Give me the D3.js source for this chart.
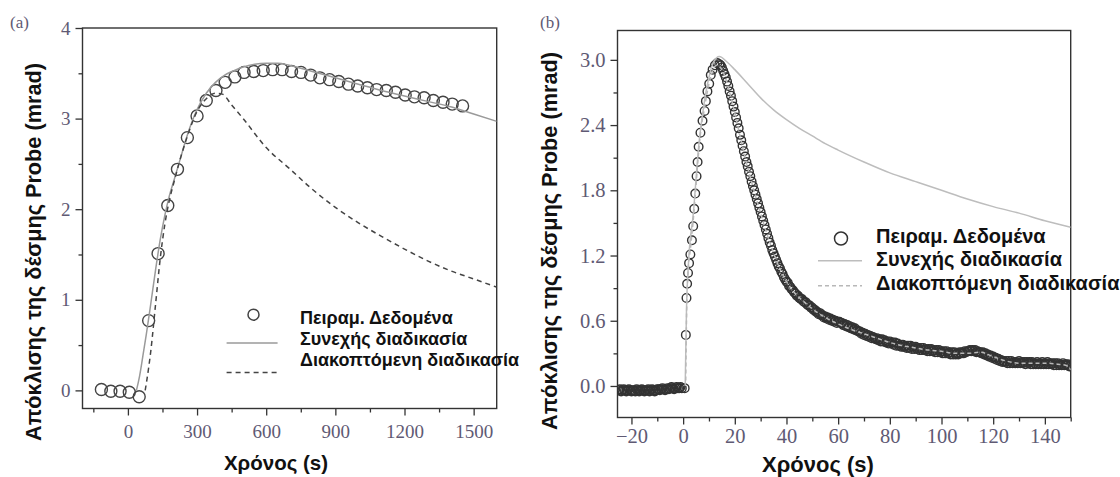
<!DOCTYPE html>
<html>
<head>
<meta charset="utf-8">
<script src="https://cdn.jsdelivr.net/npm/d3@7"></script>
<style>
  body { margin: 0; background: #fff; }
  svg { display: block; }
</style>
</head>
<body>
<svg width="1120" height="477"></svg>
<script>
// ---- panel (a) : slow heating, time in s ----
const aDataT = [-115, -74, -34, 6, 49, 90, 131, 173, 215, 258, 300, 340, 382, 422, 464, 504, 546, 587, 628, 669,
  710, 751, 793, 833, 875, 915, 957, 997, 1039, 1079, 1121, 1161, 1203, 1243, 1285, 1325, 1367, 1407, 1452];
const aDataV = [0.01, -0.01, -0.01, -0.02, -0.07, 0.77, 1.51, 2.04, 2.44, 2.79, 3.03, 3.20, 3.31, 3.40, 3.46, 3.51, 3.52, 3.53, 3.54, 3.54,
  3.52, 3.51, 3.48, 3.45, 3.43, 3.41, 3.38, 3.36, 3.34, 3.32, 3.31, 3.29, 3.26, 3.24, 3.23, 3.20, 3.18, 3.16, 3.14];

const aContT = [37, 50, 65, 80, 100, 120, 140, 160, 180, 200, 230, 258, 280, 300, 340, 380, 420, 460, 500, 550, 600, 650, 700, 800, 900, 1000, 1100, 1200, 1300, 1400, 1500, 1600];
const aContV = [0, 0.15, 0.38, 0.62, 0.97, 1.33, 1.66, 1.93, 2.15, 2.32, 2.58, 2.82, 2.98, 3.10, 3.28, 3.40, 3.48, 3.53, 3.57, 3.60, 3.61, 3.61, 3.59, 3.52, 3.45, 3.38, 3.31, 3.25, 3.19, 3.13, 3.05, 2.97];

const aPulsT = [75, 90, 100, 120, 140, 160, 180, 200, 230, 260, 300, 340, 380, 410, 450, 500, 600, 700, 800, 900, 1000, 1100, 1200, 1300, 1400, 1500, 1600];
const aPulsV = [0, 0.25, 0.45, 0.95, 1.45, 1.83, 2.1, 2.3, 2.58, 2.82, 3.08, 3.22, 3.28, 3.27, 3.15, 3.0, 2.68, 2.45, 2.22, 2.02, 1.85, 1.70, 1.56, 1.43, 1.32, 1.23, 1.14];

const aXTicks = [0, 300, 600, 900, 1200, 1500];
const aXMinor = [-150, 150, 450, 750, 1050, 1350];
const aYTicks = [0, 1, 2, 3, 4];
const aYMinor = [0.5, 1.5, 2.5, 3.5];

// ---- panel (b) : fast heating, time in s ----
const bPreStart = -25, bPreStep = 0.5;
const bPreV = [-0.04, -0.03, -0.05, -0.04, -0.03, -0.04, -0.05, -0.04, -0.03, -0.04,
  -0.05, -0.04, -0.04, -0.05, -0.03, -0.04, -0.05, -0.04, -0.03, -0.04,
  -0.05, -0.04, -0.04, -0.03, -0.05, -0.04, -0.03, -0.04, -0.05, -0.04,
  -0.03, -0.03, -0.04, -0.03, -0.02, -0.03, -0.04, -0.03, -0.02, -0.03,
  -0.02, -0.01, -0.02, -0.03, -0.02, -0.01, -0.02, -0.02, -0.01, -0.02];

const bRiseT = [0.6, 1.05, 1.3, 1.55, 1.9, 2.3, 2.8, 3.4, 3.9, 4.3, 4.7, 5.2, 5.6, 6.0, 6.7, 7.5, 8.3, 8.8, 9.4, 10.1, 10.7, 11.4, 12.3, 13.2];
const bRiseV = [-0.02, 0.47, 0.81, 0.94, 1.04, 1.13, 1.21, 1.34, 1.47, 1.63, 1.77, 1.93, 2.06, 2.20, 2.33, 2.44, 2.53, 2.62, 2.71, 2.78, 2.86, 2.91, 2.95, 2.97];

const bDecayStart = 14, bDecayStep = 0.5;
const bDecayV = [
  2.96, 2.95, 2.93, 2.90, 2.87, 2.84, 2.80, 2.76, 2.71, 2.67,
  2.62, 2.57, 2.52, 2.47, 2.42, 2.37, 2.31, 2.26, 2.21, 2.16,
  2.11, 2.06, 2.02, 1.97, 1.93, 1.88, 1.84, 1.80, 1.76, 1.72,
  1.68, 1.64, 1.60, 1.56, 1.52, 1.48, 1.44, 1.40, 1.36, 1.32,
  1.29, 1.25, 1.22, 1.19, 1.16, 1.13, 1.10, 1.08, 1.05, 1.03,
  1.00, 0.98, 0.96, 0.95, 0.92, 0.91, 0.89, 0.88, 0.86, 0.85,
  0.83, 0.83, 0.81, 0.80, 0.80, 0.78, 0.77, 0.77, 0.75, 0.74,
  0.74, 0.72, 0.72, 0.70, 0.70, 0.68, 0.68, 0.66, 0.67, 0.65,
  0.65, 0.63, 0.64, 0.62, 0.63, 0.61, 0.62, 0.60, 0.61, 0.59,
  0.60, 0.58, 0.59, 0.59, 0.58, 0.58, 0.56, 0.57, 0.55, 0.56,
  0.54, 0.55, 0.53, 0.54, 0.52, 0.53, 0.51, 0.51, 0.50, 0.50,
  0.48, 0.49, 0.47, 0.48, 0.46, 0.47, 0.45, 0.46, 0.44, 0.45,
  0.44, 0.43, 0.44, 0.42, 0.43, 0.41, 0.43, 0.41, 0.42, 0.40,
  0.41, 0.39, 0.41, 0.39, 0.40, 0.38, 0.40, 0.37, 0.39, 0.37,
  0.38, 0.36, 0.38, 0.36, 0.37, 0.35, 0.37, 0.35, 0.37, 0.34,
  0.36, 0.34, 0.36, 0.34, 0.35, 0.33, 0.35, 0.33, 0.35, 0.33,
  0.34, 0.32, 0.34, 0.32, 0.34, 0.32, 0.33, 0.31, 0.33, 0.31,
  0.33, 0.31, 0.32, 0.30, 0.32, 0.30, 0.32, 0.30, 0.31, 0.29,
  0.31, 0.29, 0.31, 0.29, 0.30, 0.29, 0.31, 0.30, 0.31, 0.30,
  0.32, 0.31, 0.32, 0.32, 0.33, 0.32, 0.33, 0.32, 0.33, 0.31,
  0.32, 0.31, 0.31, 0.30, 0.31, 0.29, 0.30, 0.28, 0.29, 0.27,
  0.28, 0.26, 0.27, 0.25, 0.26, 0.24, 0.25, 0.23, 0.24, 0.22,
  0.23, 0.22, 0.23, 0.21, 0.23, 0.21, 0.23, 0.21, 0.22, 0.21,
  0.22, 0.21, 0.23, 0.21, 0.22, 0.21, 0.22, 0.20, 0.22, 0.21,
  0.22, 0.20, 0.22, 0.20, 0.21, 0.20, 0.22, 0.20, 0.21, 0.20,
  0.22, 0.20, 0.21, 0.20, 0.22, 0.20, 0.21, 0.20, 0.21, 0.19,
  0.21, 0.19, 0.21, 0.19, 0.20, 0.19, 0.21, 0.19, 0.20, 0.19,
  0.20, 0.18, 0.19];

const bContT = [0.8, 1.3, 2, 4, 6, 8, 10, 12, 14, 17, 20, 25, 30, 35, 40, 45, 50, 55, 60, 70, 80, 90, 100, 110, 120, 130, 140, 150];
const bContV = [0, 0.7, 1.1, 1.6, 2.2, 2.58, 2.84, 2.99, 3.03, 2.98, 2.91, 2.78, 2.65, 2.54, 2.45, 2.37, 2.30, 2.23, 2.17, 2.06, 1.96, 1.88, 1.80, 1.72, 1.65, 1.59, 1.52, 1.46];

const bPulsT = [1.0, 1.3, 1.8, 3, 4, 5, 6, 7, 8, 9, 10, 11, 12, 13, 14, 16, 18, 20, 22, 24, 26, 28, 30, 32, 34, 36, 38, 40,
  43, 46, 50, 55, 60, 65, 70, 75, 80, 85, 90, 95, 100, 105, 110, 115, 120, 125, 130, 135, 140, 145, 148, 150];
const bPulsV = [0.05, 0.6, 1.0, 1.3, 1.55, 1.85, 2.15, 2.38, 2.52, 2.66, 2.78, 2.87, 2.93, 2.95, 2.94, 2.86, 2.70, 2.51,
  2.30, 2.10, 1.92, 1.75, 1.59, 1.43, 1.29, 1.16, 1.05, 0.96, 0.86, 0.79, 0.71, 0.63, 0.57, 0.52, 0.48, 0.44, 0.40,
  0.37, 0.35, 0.33, 0.32, 0.30, 0.30, 0.31, 0.27, 0.23, 0.21, 0.21, 0.21, 0.20, 0.19, 0.15];

const bXTicks = [-20, 0, 20, 40, 60, 80, 100, 120, 140];
const bXMinor = [-10, 10, 30, 50, 70, 90, 110, 130, 150];
const bYTicks = [0, 0.6, 1.2, 1.8, 2.4, 3.0];
const bYMinor = [0.3, 0.9, 1.5, 2.1, 2.7];

const legendLabels = ['Πειραμ. Δεδομένα', 'Συνεχής διαδικασία', 'Διακοπτόμενη διαδικασία'];
const yTitle = 'Απόκλισης της δέσμης Probe (mrad)';
const xTitle = 'Χρόνος (s)';

const svg = d3.select('svg');
const sans = 'Liberation Sans, Arial, sans-serif';
const serif = 'Liberation Serif, Times New Roman, serif';
const tickColor = '#5f5a74';

const zip = (ts, vs) => ts.map((t, i) => [t, vs[i]]);

function panel(p) {
  const g = svg.append('g');
  const x = d3.scaleLinear().domain(p.xDomain).range(p.xRange);
  const y = d3.scaleLinear().domain(p.yDomain).range(p.yRange);

  // axes: major + minor ticks
  g.append('g').attr('transform', `translate(0,${p.yRange[0]})`)
    .call(d3.axisBottom(x).tickValues(p.xTicks).tickSize(7).tickSizeOuter(0).tickPadding(p.xPad).tickFormat(p.xFmt));
  g.append('g').attr('transform', `translate(0,${p.yRange[0]})`)
    .call(d3.axisBottom(x).tickValues(p.xMinor).tickSize(4).tickSizeOuter(0).tickFormat(''));
  g.append('g').attr('transform', `translate(${p.xRange[0]},0)`)
    .call(d3.axisLeft(y).tickValues(p.yTicks).tickSize(7).tickSizeOuter(0).tickPadding(5).tickFormat(p.yFmt));
  g.append('g').attr('transform', `translate(${p.xRange[0]},0)`)
    .call(d3.axisLeft(y).tickValues(p.yMinor).tickSize(4).tickSizeOuter(0).tickFormat(''));
  g.selectAll('.domain').remove();
  g.selectAll('.tick line').attr('stroke', '#333').attr('stroke-width', 1.3);
  g.selectAll('.tick text').attr('font-family', serif).attr('font-size', p.tickFont).attr('fill', tickColor);

  // frame
  g.append('rect')
    .attr('x', p.xRange[0]).attr('y', p.yRange[1])
    .attr('width', p.xRange[1] - p.xRange[0]).attr('height', p.yRange[0] - p.yRange[1])
    .attr('fill', 'none').attr('stroke', '#333').attr('stroke-width', 1.4);

  const clipId = 'clip' + p.name;
  g.append('clipPath').attr('id', clipId).append('rect')
    .attr('x', p.xRange[0]).attr('y', p.yRange[1])
    .attr('width', p.xRange[1] - p.xRange[0]).attr('height', p.yRange[0] - p.yRange[1]);
  const plot = g.append('g').attr('clip-path', `url(#${clipId})`);

  const line = d3.line().x(d => x(d[0])).y(d => y(d[1])).curve(d3.curveMonotoneX);

  // data circles
  plot.append('g').selectAll('circle').data(p.points).join('circle')
    .attr('cx', d => x(d[0])).attr('cy', d => y(d[1])).attr('r', p.r)
    .attr('fill', 'none').attr('stroke', p.dotColor).attr('stroke-width', p.dotWidth);

  plot.append('path').datum(p.cont).attr('d', line)
    .attr('fill', 'none').attr('stroke', p.contColor).attr('stroke-width', 1.5);
  plot.append('path').datum(p.puls).attr('d', line)
    .attr('fill', 'none').attr('stroke', p.pulsColor).attr('stroke-width', 1.5).attr('stroke-dasharray', p.dash);

  // legend
  const L = p.legend;
  g.append('circle').attr('cx', L.cx).attr('cy', L.cy).attr('r', L.r)
    .attr('fill', 'none').attr('stroke', p.dotColor).attr('stroke-width', 1.5);
  g.append('line').attr('x1', L.lx[0]).attr('x2', L.lx[1]).attr('y1', L.ly[0]).attr('y2', L.ly[0])
    .attr('stroke', p.contColor).attr('stroke-width', 1.5);
  g.append('line').attr('x1', L.lx[0]).attr('x2', L.lx[1]).attr('y1', L.ly[1]).attr('y2', L.ly[1])
    .attr('stroke', p.pulsColor).attr('stroke-width', 1.5).attr('stroke-dasharray', p.dash);
  legendLabels.forEach((s, i) => {
    g.append('text').attr('x', L.tx).attr('y', L.ty[i]).text(s)
      .attr('font-family', sans).attr('font-weight', 'bold').attr('font-size', L.font).attr('fill', '#111');
  });

  // titles
  g.append('text').attr('transform', `translate(${p.yTitle[0]},${p.yTitle[1]}) rotate(-90)`)
    .attr('text-anchor', 'middle').attr('dominant-baseline', 'central').text(yTitle)
    .attr('font-family', sans).attr('font-weight', 'bold').attr('font-size', p.titleFont).attr('fill', '#111');
  g.append('text').attr('x', p.xTitle[0]).attr('y', p.xTitle[1])
    .attr('text-anchor', 'middle').text(xTitle)
    .attr('font-family', sans).attr('font-weight', 'bold').attr('font-size', p.xTitleFont).attr('fill', '#111');
  g.append('text').attr('x', p.tag[0]).attr('y', p.tag[1]).text(p.tagText)
    .attr('font-family', serif).attr('font-size', 17).attr('fill', tickColor);
}

panel({
  name: 'a', tagText: '(a)', tag: [10, 28],
  xDomain: [-197, 1600], xRange: [82.5, 496.7],
  yDomain: [-0.2, 4], yRange: [408.5, 28],
  xTicks: aXTicks, xMinor: aXMinor, yTicks: aYTicks, yMinor: aYMinor,
  xFmt: d3.format('d'), yFmt: d3.format('d'), xPad: 9, tickFont: 19,
  points: zip(aDataT, aDataV), r: 6, dotColor: '#444', dotWidth: 1.4,
  cont: zip(aContT, aContV), puls: zip(aPulsT, aPulsV),
  contColor: '#9a9a9a', pulsColor: '#444', dash: '5,4',
  legend: { cx: 253.5, cy: 314.7, r: 5.5, lx: [226.6, 277.6], ly: [343, 372.5], tx: 300, ty: [324, 345, 366], font: 18 },
  yTitle: [33, 252], xTitle: [276, 470], titleFont: 21.7, xTitleFont: 20.5
});

const bPoints = bPreV.map((v, i) => [bPreStart + i * bPreStep, v])
  .concat(zip(bRiseT, bRiseV))
  .concat(bDecayV.map((v, i) => [bDecayStart + i * bDecayStep, v]));

panel({
  name: 'b', tagText: '(b)', tag: [540, 28],
  xDomain: [-25.4, 150], xRange: [617.5, 1070.7],
  yDomain: [-0.29, 3.27], yRange: [417.5, 30.5],
  xTicks: bXTicks, xMinor: bXMinor, yTicks: bYTicks, yMinor: bYMinor,
  xFmt: d3.format('d'), yFmt: d3.format('.1f'), xPad: 4, tickFont: 20.5,
  points: bPoints, r: 4.3, dotColor: '#333', dotWidth: 1.4,
  cont: zip(bContT, bContV), puls: zip(bPulsT, bPulsV),
  contColor: '#bdbdbd', pulsColor: '#b8b8b8', dash: '4,3',
  legend: { cx: 841, cy: 238.5, r: 6.5, lx: [818, 862], ly: [260.7, 285.7], tx: 876, ty: [243, 266, 290], font: 20 },
  yTitle: [549, 241], xTitle: [818, 472], titleFont: 21.7, xTitleFont: 22
});
</script>
</body>
</html>
